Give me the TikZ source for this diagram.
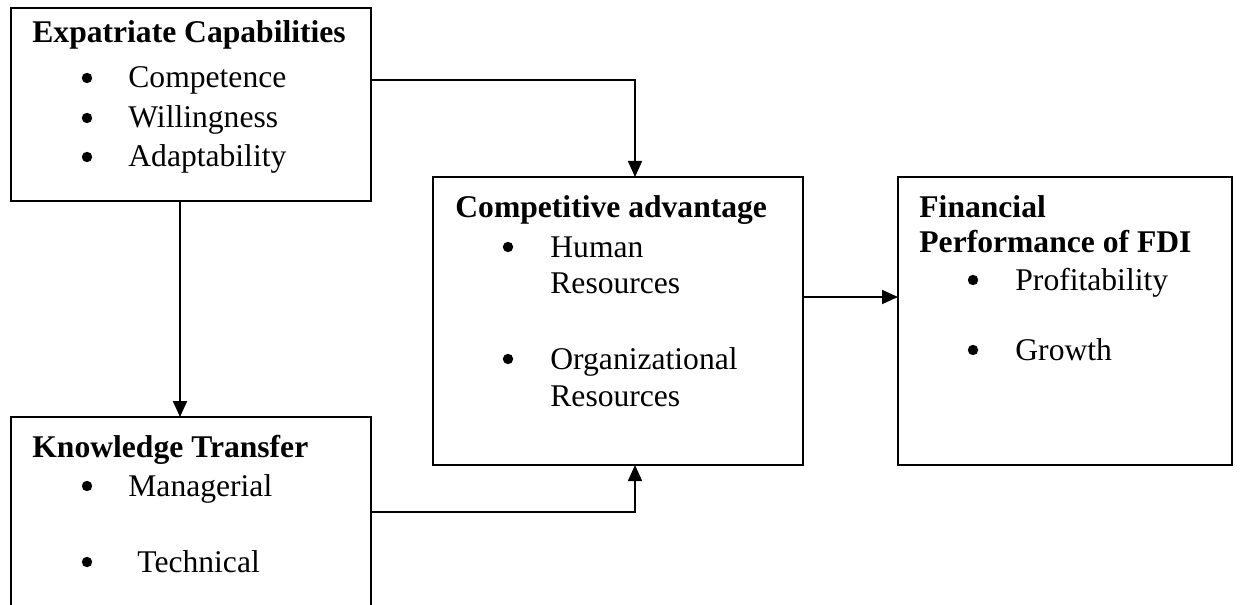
\documentclass[tikz,border=0pt]{standalone}
\usepackage{fontspec}
\setmainfont{Liberation Serif}
\usetikzlibrary{arrows.meta}
\tikzset{
  box/.style={draw, line width=0.85pt, inner sep=0pt, outer sep=0pt},
  txt/.style={anchor=base west, inner sep=0pt, font=\fontsize{15.8}{19}\selectfont},
  hd/.style={txt, font=\fontsize{15.8}{19}\selectfont\bfseries},
  dot/.style={circle, fill, inner sep=0pt, minimum size=5.2pt, yshift=5pt},
  arr/.style={line width=0.85pt, -{Triangle[length=8pt,width=7pt]}}
}
\begin{document}
\begin{tikzpicture}[x=0.5pt, y=-0.5pt]
\clip (0,0) rectangle (1240,604);
\fill[white] (0,0) rectangle (1240,604);

\node[box, minimum width=180pt, minimum height=96.5pt] (expat) at (191,104.5) {};
\node[box, minimum width=180pt, minimum height=95pt] (know) at (191,512) {};
\node[box, minimum width=185pt, minimum height=144pt] (comp) at (618,321) {};
\node[box, minimum width=167pt, minimum height=144pt] (fin) at (1065,321) {};

\node[hd] (expath) at (32,43) {Expatriate Capabilities};
\node[dot] (expatb1) at (87,88) {};
\node[txt] (expat1) at (128,88) {Competence};
\node[dot] (expatb2) at (87,128) {};
\node[txt] (expat2) at (128,128) {Willingness};
\node[dot] (expatb3) at (87,167) {};
\node[txt] (expat3) at (128,167) {Adaptability};

\node[hd] (knowh) at (32,457) {Knowledge Transfer};
\node[dot] (knowb1) at (87,496) {};
\node[txt] (know1) at (128,496) {Managerial};
\node[dot] (knowb2) at (87,572) {};
\node[txt] (know2) at (137,572) {Technical};

\node[hd] (comph) at (455,217) {Competitive advantage};
\node[dot] (compb1) at (508,257) {};
\node[txt] (comp1) at (550,257) {Human};
\node[txt] (comp1b) at (550,293) {Resources};
\node[dot] (compb2) at (508,369) {};
\node[txt] (comp2) at (550,369) {Organizational};
\node[txt] (comp2b) at (550,406) {Resources};

\node[hd] (finh) at (919,217) {Financial};
\node[hd] (finh2) at (919,252) {Performance of FDI};
\node[dot] (finb1) at (973,290) {};
\node[txt] (fin1) at (1015,290) {Profitability};
\node[dot] (finb2) at (973,360) {};
\node[txt] (fin2) at (1015,360) {Growth};

\draw[arr] ([yshift=12.25pt]expat.east) -| ([xshift=8.5pt]comp.north);
\draw[arr] ([xshift=-5.5pt]expat.south) -- ([xshift=-5.5pt]know.north);
\draw[arr] (know.east) -| ([xshift=8.5pt]comp.south);
\draw[arr] ([yshift=12pt]comp.east) -- ([yshift=12pt]fin.west);
\end{tikzpicture}
\end{document}
